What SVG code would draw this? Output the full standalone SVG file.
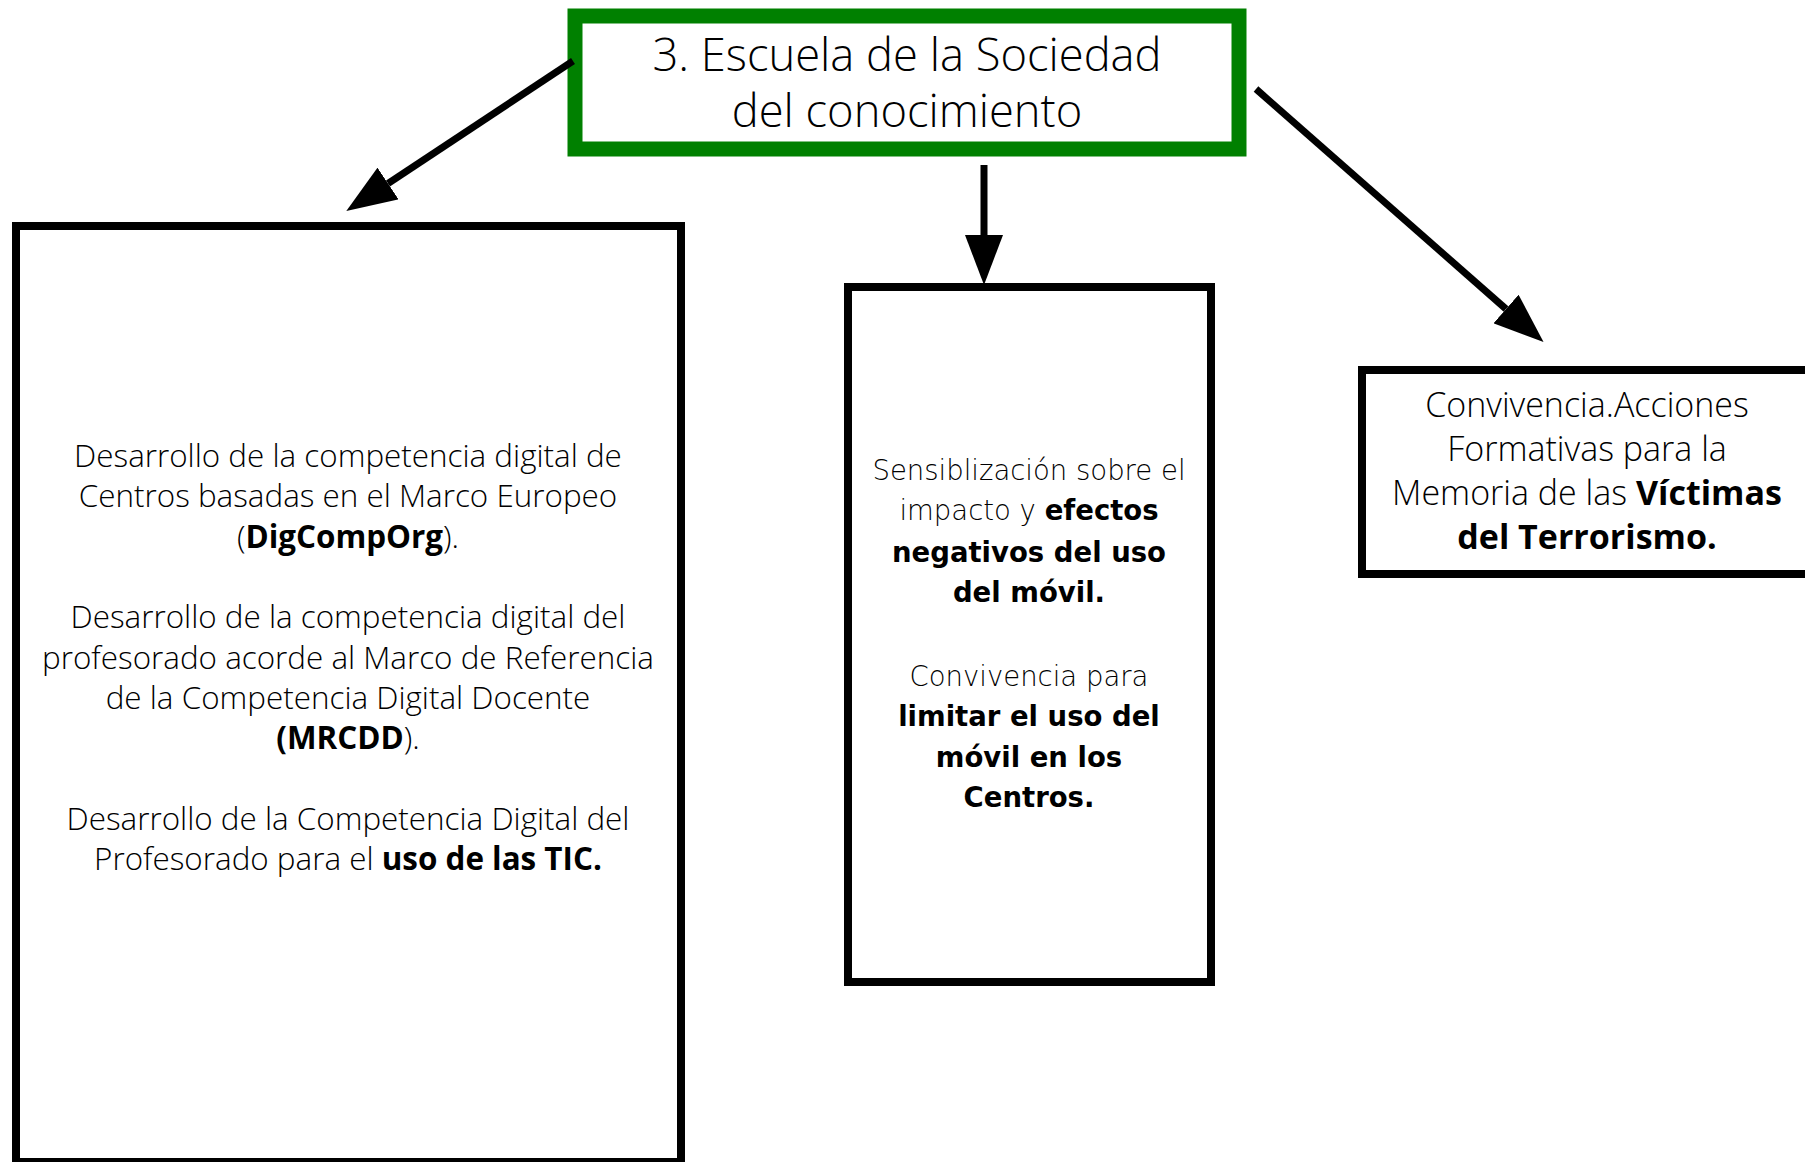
<svg xmlns="http://www.w3.org/2000/svg" width="1805" height="1162" viewBox="0 0 1805 1162">
<style>
.box{fill:#fff;stroke:#000;stroke-width:8}
.main{fill:#fff;stroke:#008000;stroke-width:15}
.t{font-family:"Open Sans","Liberation Sans",sans-serif;font-weight:300;fill:#000;text-anchor:middle}
.m{font-family:"DejaVu Sans","Verdana",sans-serif;font-weight:200;fill:#000;text-anchor:middle;font-size:27.5px}
.b{font-weight:700}
.conn{stroke:#000;stroke-width:7;fill:none;marker-end:url(#ah)}
</style>
<defs>
<marker id="ah" markerUnits="userSpaceOnUse" markerWidth="50" markerHeight="38" refX="0" refY="19" orient="auto">
<path d="M0,0 L50,19 L0,38 z" fill="#000"/>
</marker>
</defs>
<rect width="1805" height="1162" fill="#fff"/>
<g id="node-main">
<rect class="main" x="575" y="16" width="664" height="133"/>
<text class="t" x="907" y="71" font-size="45.3">3. Escuela de la Sociedad</text>
<text class="t" x="907" y="127" font-size="45.3">del conocimiento</text>
</g>
<g id="node-left">
<rect class="box" x="16" y="226" width="665" height="936"/>
<g class="t" font-size="31.4">
<text x="348" y="467">Desarrollo de la competencia digital de</text>
<text x="348" y="507">Centros basadas en el Marco Europeo</text>
<text x="348" y="548">(<tspan class="b">DigCompOrg</tspan>).</text>
<text x="348" y="628">Desarrollo de la competencia digital del</text>
<text x="348" y="669">profesorado acorde al Marco de Referencia</text>
<text x="348" y="709">de la Competencia Digital Docente</text>
<text x="348" y="749"><tspan class="b">(MRCDD</tspan>).</text>
<text x="348" y="830">Desarrollo de la Competencia Digital del</text>
<text x="348" y="870">Profesorado para el <tspan class="b">uso de las TIC.</tspan></text>
</g>
</g>
<g id="node-middle">
<rect class="box" x="848" y="287" width="363" height="695"/>
<g class="m">
<text x="1029" y="480">Sensiblización sobre el</text>
<text x="1029" y="520">impacto y <tspan class="b">efectos</tspan></text>
<text x="1029" y="562" class="b">negativos del uso</text>
<text x="1029" y="602" class="b">del móvil.</text>
<text x="1029" y="686">Convivencia para</text>
<text x="1029" y="726" class="b">limitar el uso del</text>
<text x="1029" y="767" class="b">móvil en los</text>
<text x="1029" y="807" class="b">Centros.</text>
</g>
</g>
<g id="node-right">
<rect class="box" x="1362" y="370" width="450" height="204"/>
<g class="t" font-size="34">
<text x="1587" y="417">Convivencia.Acciones</text>
<text x="1587" y="461">Formativas para la</text>
<text x="1587" y="505">Memoria de las <tspan class="b">Víctimas</tspan></text>
<text x="1587" y="549" class="b">del Terrorismo.</text>
</g>
</g>
<g id="connectors">
<line class="conn" x1="573" y1="61" x2="388" y2="183.5"/>
<line class="conn" x1="984" y1="165" x2="984" y2="235"/>
<line class="conn" x1="1256" y1="89" x2="1506" y2="309"/>
</g>
</svg>
